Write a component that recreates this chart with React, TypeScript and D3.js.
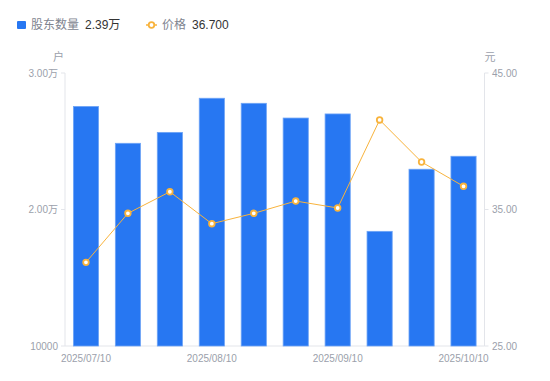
import React from "react";
import * as d3 from "d3";

const dates = [
  "2025/07/10", "2025/07/20", "2025/07/31", "2025/08/10", "2025/08/20",
  "2025/08/31", "2025/09/10", "2025/09/19", "2025/09/30", "2025/10/10",
];
const holders = [27550, 24850, 25650, 28150, 27780, 26700, 27000, 18400, 22950, 23900];
const prices = [31.13, 34.72, 36.3, 33.96, 34.72, 35.62, 35.11, 41.56, 38.48, 36.7];
const xTickLabels = ["2025/07/10", "2025/08/10", "2025/09/10", "2025/10/10"];
const leftTicks = [10000, 20000, 30000];
const rightTicks = [25, 35, 45];

const W = 550;
const H = 381;
const FONT = "'Liberation Sans', Arial, 'Noto Sans CJK SC', sans-serif";
const BLUE = "#2777f2";
const ORANGE = "#f8b33c";
const AXIS_TEXT = "#9b9fab";
const AXIS_LINE = "#e3e5ea";

const fmtLeft = (v: number) => (v >= 20000 ? (v / 10000).toFixed(2) + "万" : String(v));

export default function App() {
  const left = 65;
  const right = 484.5;
  const top = 73;
  const bottom = 346;

  const x = d3.scaleBand<string>().domain(dates).range([left, right]).paddingInner(0.4).paddingOuter(0.2);
  const yL = d3.scaleLinear().domain([10000, 30000]).range([bottom, top]);
  const yR = d3.scaleLinear().domain([25, 45]).range([bottom, top]);
  const cx = (d: string) => (x(d) as number) + x.bandwidth() / 2;

  const line = d3
    .line<number>()
    .x((_, i) => cx(dates[i]))
    .y((v) => yR(v));

  return (
    <svg width={W} height={H} style={{ position: "absolute", left: 0, top: 0, fontFamily: FONT }}>
      <rect width={W} height={H} fill="#fff" />
      {/* legend */}
      <rect x={17} y={21} width={9} height={8} rx={1} fill={BLUE} />
      <text x={31} y={29} fontSize={12} fill="#80848f">股东数量</text>
      <text x={85} y={29} fontSize={12} fill="#333">{(holders[holders.length - 1] / 10000).toFixed(2) + "万"}</text>
      <line x1={146} x2={157} y1={25} y2={25} stroke={ORANGE} strokeWidth={1.5} />
      <circle cx={151.5} cy={25} r={2.8} fill="#fff" stroke={ORANGE} strokeWidth={1.8} />
      <text x={162} y={29} fontSize={12} fill="#80848f">价格</text>
      <text x={192} y={29} fontSize={12} fill="#333">{prices[prices.length - 1].toFixed(3)}</text>

      {/* axis names */}
      <text x={58.5} y={61} fontSize={11} fill={AXIS_TEXT} textAnchor="middle">户</text>
      <text x={490} y={61} fontSize={11} fill={AXIS_TEXT} textAnchor="middle">元</text>

      {/* axes lines */}
      <line x1={left} x2={left} y1={top} y2={bottom} stroke={AXIS_LINE} />
      <line x1={right} x2={right} y1={top} y2={bottom} stroke={AXIS_LINE} />
      <line x1={left} x2={right} y1={bottom} y2={bottom} stroke={AXIS_LINE} />

      {leftTicks.map((t) => (
        <g key={"l" + t}>
          <line x1={left - 4} x2={left} y1={yL(t)} y2={yL(t)} stroke={AXIS_LINE} />
          <text x={left - 7} y={yL(t)} dy="0.35em" fontSize={10} fill={AXIS_TEXT} textAnchor="end">
            {fmtLeft(t)}
          </text>
        </g>
      ))}
      {rightTicks.map((t) => (
        <g key={"r" + t}>
          <line x1={right} x2={right + 4} y1={yR(t)} y2={yR(t)} stroke={AXIS_LINE} />
          <text x={right + 7.5} y={yR(t)} dy="0.35em" fontSize={10} fill={AXIS_TEXT}>
            {t.toFixed(2)}
          </text>
        </g>
      ))}
      {xTickLabels.map((d) => (
        <text key={d} x={cx(d)} y={362} fontSize={10} fill={AXIS_TEXT} textAnchor="middle">
          {d}
        </text>
      ))}

      {/* bars */}
      {holders.map((v, i) => (
        <rect
          key={i}
          x={x(dates[i])}
          y={yL(v)}
          width={x.bandwidth()}
          height={bottom - yL(v)}
          fill={BLUE}
          stroke="#6ea4f6"
          strokeWidth={0.8}
        />
      ))}

      {/* line */}
      <path d={line(prices) || ""} fill="none" stroke={ORANGE} strokeWidth={1} />
      {prices.map((v, i) => (
        <circle key={i} cx={cx(dates[i])} cy={yR(v)} r={2.8} fill="#fff" stroke={ORANGE} strokeWidth={1.8} />
      ))}
    </svg>
  );
}
